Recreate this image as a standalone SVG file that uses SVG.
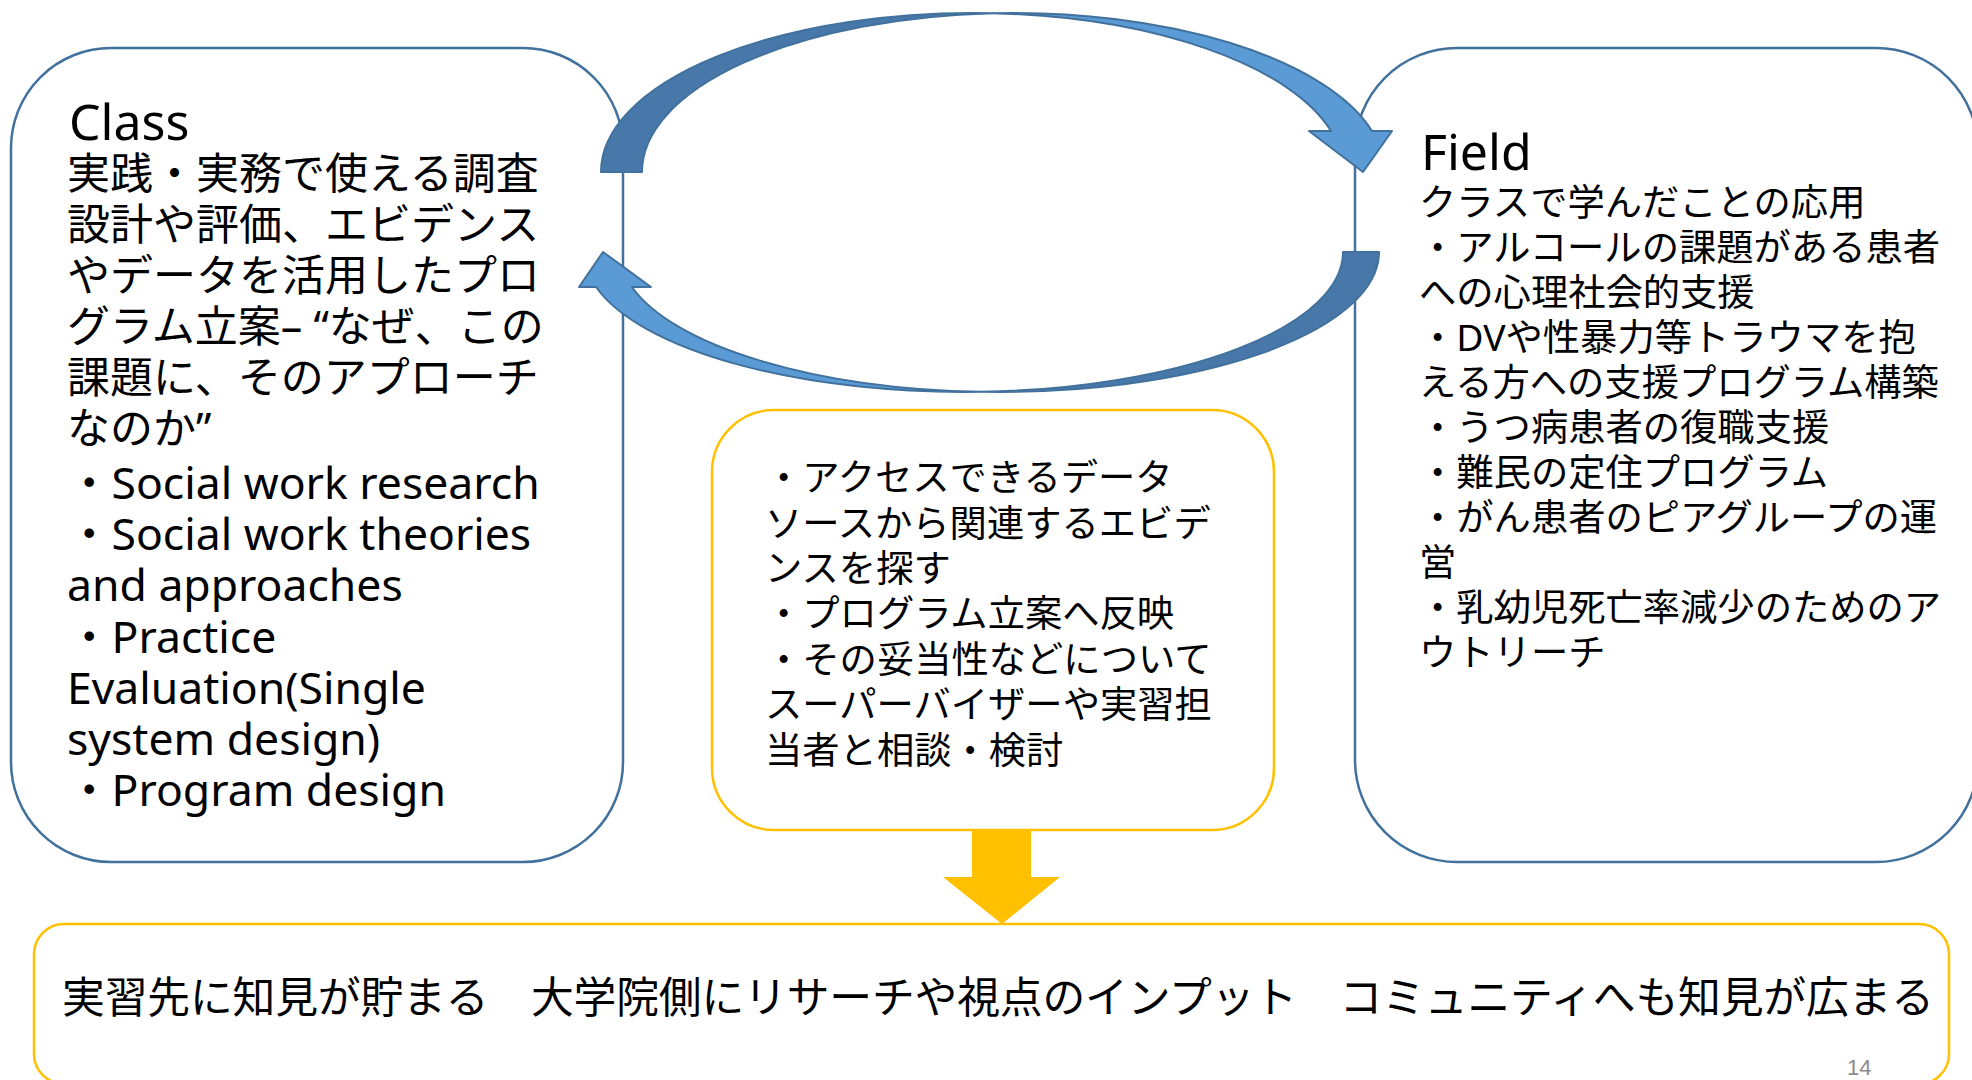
<svg xmlns="http://www.w3.org/2000/svg" width="1972" height="1080" viewBox="0 0 1972 1080">
<style>
.bb{fill:#fff;stroke:#41719C;stroke-width:2.5}
.yb{fill:#fff;stroke:#FFC000;stroke-width:2.5}
.t{font-family:"Noto Sans","Noto Sans CJK JP",sans-serif;fill:#000}
.ttl{font-size:50px}
.cj{font-size:43px}
.lat{font-size:44.5px}
.fd{font-size:37.3px}
.dk{fill:#4878AA;stroke:#41719C;stroke-width:2;stroke-linejoin:round}
.lt{fill:#5B9BD5;stroke:#41719C;stroke-width:2;stroke-linejoin:round}
</style>
<rect width="1972" height="1080" fill="#fff"/>
<g id="class-box">
<rect class="bb" x="11" y="48" width="612" height="814" rx="100" ry="100"/>
<text class="t ttl" x="69" y="140">Class</text>
<text class="t cj">
<tspan x="67" y="189">実践・実務で使える調査</tspan>
<tspan x="67" y="240">設計や評価、エビデンス</tspan>
<tspan x="67" y="291">やデータを活用したプロ</tspan>
<tspan x="67" y="342">グラム立案– “なぜ、この</tspan>
<tspan x="67" y="393">課題に、そのアプローチ</tspan>
<tspan x="67" y="444">なのか”</tspan>
</text>
<text class="t lat">
<tspan x="67" y="499">・Social work research</tspan>
<tspan x="67" y="550">・Social work theories</tspan>
<tspan x="67" y="601">and approaches</tspan>
<tspan x="67" y="653">・Practice</tspan>
<tspan x="67" y="704">Evaluation(Single</tspan>
<tspan x="67" y="755">system design)</tspan>
<tspan x="67" y="806">・Program design</tspan>
</text>
</g>
<g id="field-box">
<rect class="bb" x="1355" y="48" width="623" height="814" rx="102" ry="102"/>
<text class="t ttl" x="1421" y="170">Field</text>
<text class="t fd">
<tspan x="1419" y="216">クラスで学んだことの応用</tspan>
<tspan x="1419" y="261">・アルコールの課題がある患者</tspan>
<tspan x="1419" y="306">への心理社会的支援</tspan>
<tspan x="1419" y="351">・DVや性暴力等トラウマを抱</tspan>
<tspan x="1419" y="396">える方への支援プログラム構築</tspan>
<tspan x="1419" y="441">・うつ病患者の復職支援</tspan>
<tspan x="1419" y="486">・難民の定住プログラム</tspan>
<tspan x="1419" y="531">・がん患者のピアグループの運</tspan>
<tspan x="1419" y="576">営</tspan>
<tspan x="1419" y="621">・乳幼児死亡率減少のためのア</tspan>
<tspan x="1419" y="666">ウトリーチ</tspan>
</text>
</g>
<g id="middle-box">
<rect class="yb" x="712" y="410" width="562" height="420" rx="62" ry="62"/>
<text class="t fd">
<tspan x="765" y="491">・アクセスできるデータ</tspan>
<tspan x="765" y="537">ソースから関連するエビデ</tspan>
<tspan x="765" y="582">ンスを探す</tspan>
<tspan x="765" y="627">・プログラム立案へ反映</tspan>
<tspan x="765" y="673">・その妥当性などについて</tspan>
<tspan x="765" y="718">スーパーバイザーや実習担</tspan>
<tspan x="765" y="764">当者と相談・検討</tspan>
</text>
</g>
<g id="bottom-box">
<rect class="yb" x="34" y="924" width="1915" height="160" rx="30" ry="30"/>
<text class="t" font-size="42.8" x="62" y="1013" textLength="1872" lengthAdjust="spacing">実習先に知見が貯まる　大学院側にリサーチや視点のインプット　コミュニティへも知見が広まる</text>
</g>
<g id="connectors">
<g id="arrow-class-to-field">
<path class="dk" d="M601,172 A371.3,159 0 0 1 992.8,13.2 A371.3,159 0 0 0 642,172 Z"/>
<path class="lt" d="M992.8,13.2 A371.3,159 0 0 1 1372,131 L1392,131 L1363,172 L1309,131 L1331,131 A371.3,159 0 0 0 992.8,13.2 Z"/>
</g>
<g id="arrow-field-to-class">
<path class="dk" d="M1379,252 A379.5,140 0 0 1 981.5,391.8 A379.5,140 0 0 0 1343,252 Z"/>
<path class="lt" d="M981.5,391.8 A379.5,140 0 0 1 596.1,287 L579,287 L603,252 L651,287 L632,287 A379.5,140 0 0 0 981.5,391.8 Z"/>
</g>
<polygon id="arrow-down" fill="#FFC000" points="972,830 1031,830 1031,877 1060,877 1002,924 943,877 972,877"/>
</g>
<text id="page-number" font-family="'Liberation Sans',sans-serif" font-size="22" fill="#8C8C8C" x="1847" y="1075">14</text>
</svg>
